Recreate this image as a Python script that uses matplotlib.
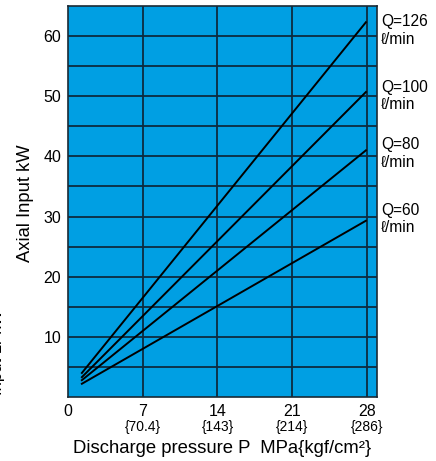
import matplotlib
matplotlib.use("Agg")
import matplotlib.pyplot as plt
import matplotlib.transforms as mtransforms

plt.rcParams['font.family'] = ['Liberation Sans', 'DejaVu Sans']

# ---- data ----
pressure_start = 1.3
pressure_end = 27.9
flows = ["Q=126", "Q=100", "Q=80", "Q=60"]
input_start = [4.0, 3.3, 2.8, 2.2]
input_end = [62.3, 50.7, 41.0, 29.3]
x_ticks = [0, 7, 14, 21, 28]
x_sub_labels = ["", "{70.4}", "{143}", "{214}", "{286}"]
y_ticks = [10, 20, 30, 40, 50, 60]

BLUE = "#009fe3"
GRID = "#0d2b40"

fig = plt.figure(figsize=(4.36, 4.61), dpi=100)
ax = fig.add_axes([68/436, 1-397/461, (377-68)/436, (397-6)/461])
ax.set_facecolor(BLUE)
ax.set_xlim(0, 28.94)
ax.set_ylim(0, 65)

for x in [7, 14, 21, 28]:
    ax.axvline(x, color=GRID, lw=1.3, zorder=1)
for y in range(5, 65, 5):
    ax.axhline(y, color=GRID, lw=1.3, zorder=1)

label_offsets = [8, 12, 13, 18]
for name, y0, y1, off in zip(flows, input_start, input_end, label_offsets):
    ax.plot([pressure_start, pressure_end], [y0, y1], color="black", lw=1.4, zorder=3)
    ax.annotate(name + "\nℓ/min", xy=(pressure_end, y1), xytext=(15, off),
                textcoords="offset pixels", ha="left", va="top",
                fontsize=11.2, linespacing=1.2, annotation_clip=False)

for s in ax.spines.values():
    s.set_color("#1a2a35")
    s.set_linewidth(1.2)

ax.set_xticks(x_ticks)
ax.set_xticklabels([str(v) for v in x_ticks], fontsize=11.5)
ax.set_yticks(y_ticks)
ax.set_yticklabels([str(v) for v in y_ticks], fontsize=11.5)
ax.tick_params(length=0, pad=5)

trans = mtransforms.blended_transform_factory(ax.transData, fig.transFigure)
for x, s in zip(x_ticks, x_sub_labels):
    if s:
        ax.text(x, 1-427/461, s, transform=trans, ha="center", va="center", fontsize=10)

fig.text(222/436, 1-448/461, "Discharge pressure P  MPa{kgf/cm²}",
         ha="center", va="center", fontsize=13.3)
fig.text(25/436, 1-203/461, "Axial Input kW", rotation=90,
         ha="center", va="center", fontsize=13.2)
# clipped label at the left edge
fig.text(5/436, 1-395/461, "Input Lr kW", rotation=90,
         ha="right", va="bottom", fontsize=12)

fig.savefig("out.png", dpi=100)
